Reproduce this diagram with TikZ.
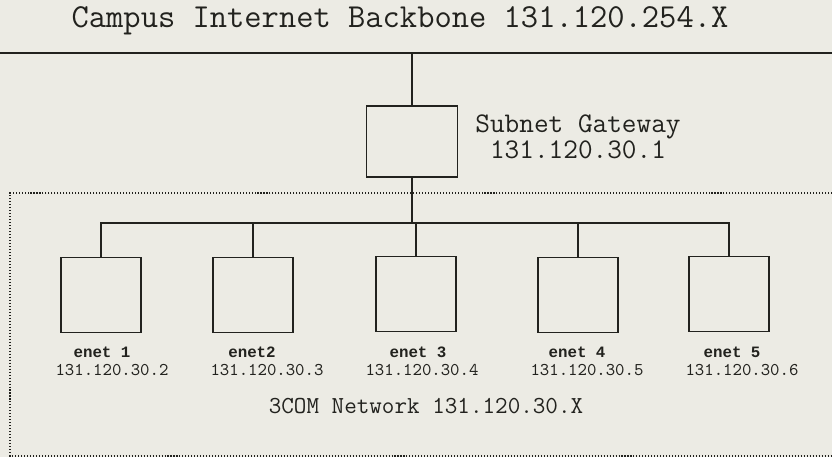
\documentclass[tikz,border=0pt]{standalone}
\usepackage{fontspec}
\newfontfamily\enetfont{Liberation Mono}
\definecolor{paper}{RGB}{236,235,228}
\definecolor{ink}{RGB}{34,34,30}
\begin{document}
\begin{tikzpicture}[x=0.02cm,y=-0.02cm,ink,font=\ttfamily,
    hostbox/.style={draw,line width=1.1pt,minimum width=1.6cm,minimum height=1.5cm,inner sep=0pt},
    hostname/.style={font=\enetfont\bfseries\fontsize{9}{10}\selectfont,anchor=base},
    hostip/.style={font=\ttfamily\fontsize{10.2}{11}\selectfont,anchor=base}]
\fill[paper](0,0)rectangle(832,457);
\useasboundingbox(0,0)rectangle(832,457);
% backbone
\node[anchor=base,font=\ttfamily\fontsize{19.1}{20}\selectfont] (title) at (400,27) {Campus Internet Backbone 131.120.254.X};
\coordinate (bbl) at (0,53);
\coordinate (bbr) at (832,53);
\draw[line width=1.2pt](bbl)--(bbr);
% gateway
\node[draw,line width=1.1pt,minimum width=1.82cm,minimum height=1.42cm,inner sep=0pt] (gw) at (412,141.5) {};
\node[align=center,font=\ttfamily\fontsize{16.2}{14.7}\selectfont] (gwlbl) at (578,137) {Subnet Gateway\\131.120.30.1};
\draw[line width=1pt](gw.north)--(gw.north |- bbl);
% 3COM network
\draw[line width=0.7pt,dash pattern=on 0.6pt off 1.1pt](835,193)--(10,193)--(10,456)--(835,456);
\node[font=\ttfamily\fontsize{13.9}{15}\selectfont,anchor=base] (net) at (426,413) {3COM Network 131.120.30.X};
\coordinate (busl) at (100,223);
\coordinate (busr) at (730,223);
\draw[line width=1.7pt](gw.south)--(gw.south |- busl);
\draw[line width=1pt](busl)--(busr);
\node[hostbox] (e1) at (101,295) {};
\node[hostbox] (e2) at (253,295) {};
\node[hostbox] (e3) at (416,294) {};
\node[hostbox] (e4) at (578,295) {};
\node[hostbox] (e5) at (729,294) {};
\draw[line width=1pt](e1.north)--(e1.north |- busl);
\draw[line width=1pt](e2.north)--(e2.north |- busl);
\draw[line width=1pt](e3.north)--(e3.north |- busl);
\draw[line width=1pt](e4.north)--(e4.north |- busl);
\draw[line width=1pt](e5.north)--(e5.north |- busl);
\node[hostname] at (102,357) {enet 1};
\node[hostname] at (252,357) {enet2};
\node[hostname] at (418,357) {enet 3};
\node[hostname] at (577,357) {enet 4};
\node[hostname] at (732,357) {enet 5};
\node[hostip] at (112,375) {131.120.30.2};
\node[hostip] at (267,375) {131.120.30.3};
\node[hostip] at (422,375) {131.120.30.4};
\node[hostip] at (587,375) {131.120.30.5};
\node[hostip] at (742,375) {131.120.30.6};
\end{tikzpicture}
\end{document}
